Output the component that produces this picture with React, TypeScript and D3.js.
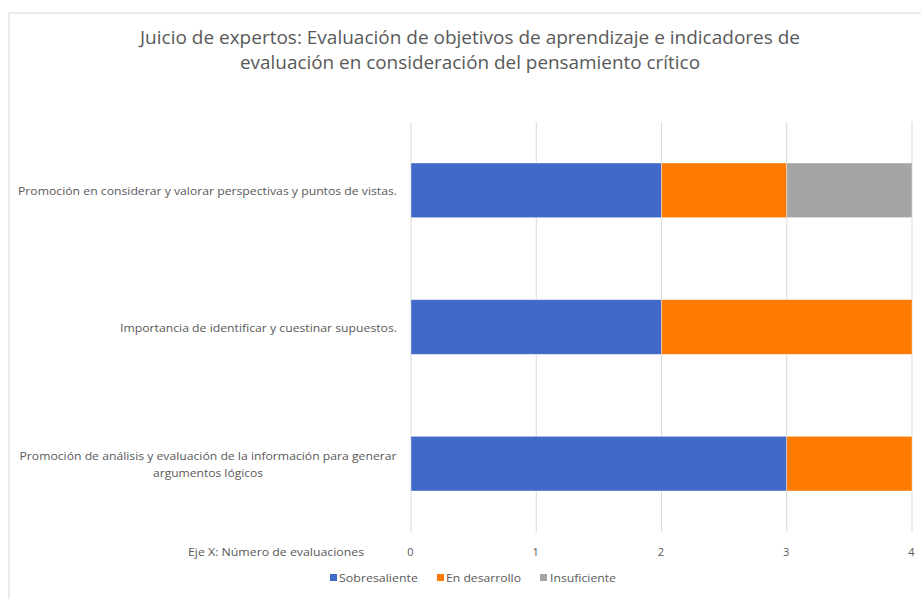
import React from "react";
import * as d3 from "d3";

const categories = [
  "Promoción en considerar y valorar perspectivas y puntos de vistas.",
  "Importancia de identificar y cuestinar supuestos.",
  "Promoción de análisis y evaluación de la información para generar\nargumentos lógicos",
];
const seriesNames = ["Sobresaliente", "En desarrollo", "Insuficiente"];
const sobresaliente = [2, 2, 3];
const enDesarrollo = [1, 2, 1];
const insuficiente = [1, 0, 0];
const xTicks = [0, 1, 2, 3, 4];
const titleLines = [
  "Juicio de expertos: Evaluación de objetivos de aprendizaje e indicadores de",
  "evaluación en consideración del pensamiento crítico",
];
const axisTitle = "Eje X: Número de evaluaciones";

const colors = ["#4169C8", "#FF7A00", "#A5A5A5"];
const FONT = "'Open Sans', 'Noto Sans', sans-serif";
const TXT = "#595959";

export default function App() {
  const W = 921, H = 599;
  const x = d3.scaleLinear().domain([0, 4]).range([411, 912]);
  const y = d3.scaleBand<number>().domain([0, 1, 2]).range([122, 532]).paddingInner(0.6).paddingOuter(0.3);

  const rows = categories.map((c, i) => ({
    i,
    Sobresaliente: sobresaliente[i],
    "En desarrollo": enDesarrollo[i],
    Insuficiente: insuficiente[i],
  }));
  const stack = d3.stack<any>().keys(seriesNames)(rows);

  const labelWidths = [379, 277, 377];
  const legendItems = [
    { sq: 330, tx: 339, w: 79 },
    { sq: 437, tx: 446, w: 75 },
    { sq: 540, tx: 550, w: 66 },
  ];

  return (
    <svg width={W} height={H} style={{ position: "absolute", left: 0, top: 0 }} fontFamily={FONT}>
      <rect x={0} y={0} width={W} height={H} fill="#fff" />
      <rect x={9} y={13} width={W + 20} height={H + 20} fill="#fff" stroke="#d9d9d9" strokeWidth={1} />
      {titleLines.map((t, i) => (
        <text key={i} x={470} y={44 + i * 25} textAnchor="middle" fontSize={19} fill={TXT}
          textLength={i === 0 ? 660 : 460} lengthAdjust="spacingAndGlyphs">{t}</text>
      ))}
      {xTicks.map((t) => (
        <line key={t} x1={x(t)} x2={x(t)} y1={122} y2={532} stroke="#d9d9d9" strokeWidth={1} />
      ))}
      {stack.map((s, si) => (
        <g key={s.key} fill={colors[si]}>
          {s.map((d, di) => (d[1] - d[0] > 0 ? (
            <rect key={di} x={x(d[0])} y={y(di)!} width={x(d[1]) - x(d[0])} height={y.bandwidth()}
              stroke="#ffffff" strokeOpacity={0.5} strokeWidth={0.75} />
          ) : null))}
        </g>
      ))}
      {categories.map((c, i) => {
        const lines = c.split("\n");
        const cy = y(i)! + y.bandwidth() / 2;
        const lh = 17;
        return lines.map((ln, li) => (
          <text key={i + "-" + li} x={lines.length > 1 ? 208 : 397} y={cy - ((lines.length - 1) * lh) / 2 + li * lh + 5}
            textAnchor={lines.length > 1 ? "middle" : "end"} fontSize={11} fill={TXT}
            textLength={li === 0 ? labelWidths[i] : 110} lengthAdjust="spacingAndGlyphs">{ln}</text>
        ));
      })}
      {xTicks.map((t) => (
        <text key={t} x={x(t) - 0.5} y={556} textAnchor="middle" fontSize={11} fill={TXT}>{t}</text>
      ))}
      <text x={364} y={556} textAnchor="end" fontSize={11} fill={TXT} textLength={176} lengthAdjust="spacingAndGlyphs">{axisTitle}</text>
      {seriesNames.map((n, i) => (
        <g key={n}>
          <rect x={legendItems[i].sq} y={574} width={7} height={7} fill={colors[i]} />
          <text x={legendItems[i].tx} y={582} fontSize={11} fill={TXT} textLength={legendItems[i].w} lengthAdjust="spacingAndGlyphs">{n}</text>
        </g>
      ))}
    </svg>
  );
}
